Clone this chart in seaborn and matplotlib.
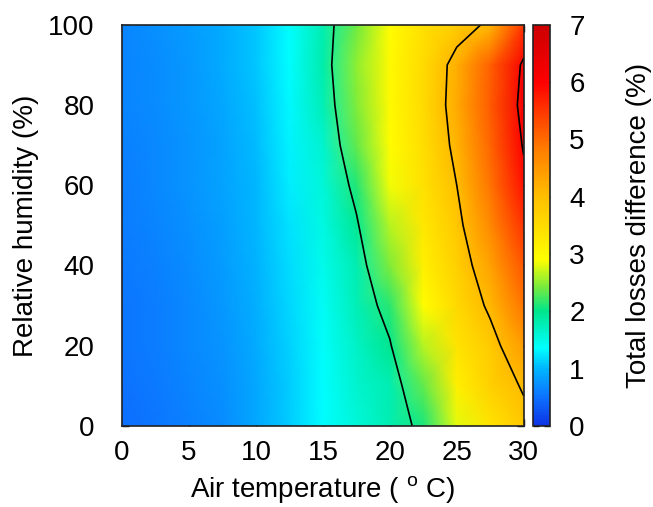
import numpy as np
import matplotlib
matplotlib.use("Agg")
import matplotlib.pyplot as plt
from matplotlib.colors import LinearSegmentedColormap
import seaborn as sns

# ---- data ----
temperature = [0, 2.5, 5, 7.5, 10, 12.5, 15, 17.5, 20, 22.5, 25, 27.5, 30]
humidity = [0, 10, 20, 30, 40, 50, 60, 70, 80, 90, 100]

rh_0   = [0.48, 0.54, 0.61, 0.70, 0.88, 1.10, 1.35, 1.58, 1.80, 2.10, 2.80, 3.35, 3.85]
rh_10  = [0.50, 0.56, 0.63, 0.73, 0.90, 1.12, 1.36, 1.62, 1.80, 2.35, 3.15, 3.70, 4.05]
rh_20  = [0.52, 0.58, 0.66, 0.76, 0.92, 1.14, 1.38, 1.68, 1.97, 2.65, 3.35, 3.80, 4.45]
rh_30  = [0.54, 0.60, 0.68, 0.78, 0.94, 1.17, 1.42, 1.75, 2.15, 2.95, 3.55, 4.10, 4.90]
rh_40  = [0.56, 0.62, 0.70, 0.81, 0.97, 1.20, 1.47, 1.80, 2.45, 3.15, 3.70, 4.35, 5.20]
rh_50  = [0.58, 0.64, 0.72, 0.83, 0.99, 1.23, 1.52, 1.95, 2.65, 3.30, 3.85, 4.65, 5.55]
rh_60  = [0.60, 0.66, 0.74, 0.85, 1.01, 1.26, 1.58, 2.12, 2.85, 3.40, 4.00, 4.90, 5.85]
rh_70  = [0.61, 0.68, 0.76, 0.87, 1.03, 1.29, 1.63, 2.35, 2.95, 3.45, 4.15, 5.05, 6.05]
rh_80  = [0.63, 0.70, 0.78, 0.89, 1.05, 1.32, 1.75, 2.45, 3.00, 3.50, 4.25, 5.15, 6.20]
rh_90  = [0.64, 0.71, 0.79, 0.91, 1.07, 1.36, 1.82, 2.50, 3.00, 3.50, 4.20, 5.10, 6.10]
rh_100 = [0.65, 0.72, 0.80, 0.92, 1.08, 1.35, 1.80, 2.40, 2.95, 3.40, 3.75, 4.10, 5.50]

contour_levels = [2, 4, 6]
cbar_ticks = [0, 1, 2, 3, 4, 5, 6, 7]
x_ticks = [0, 5, 10, 15, 20, 25, 30]
y_ticks = [0, 20, 40, 60, 80, 100]

Z = np.array([rh_0, rh_10, rh_20, rh_30, rh_40, rh_50, rh_60,
              rh_70, rh_80, rh_90, rh_100])
T, H = np.meshgrid(temperature, humidity)

# ---- style ----
sns.set_theme(style="ticks")
plt.rcParams['font.family'] = ['Liberation Sans', 'DejaVu Sans']
plt.rcParams['mathtext.fontset'] = 'custom'
plt.rcParams['mathtext.rm'] = 'Liberation Sans'
plt.rcParams['mathtext.it'] = 'Liberation Sans'
plt.rcParams['text.color'] = 'black'
plt.rcParams['axes.labelcolor'] = 'black'
plt.rcParams['xtick.color'] = 'black'
plt.rcParams['ytick.color'] = 'black'

stops = [
    (0.0, (0.05, 0.20, 0.90)),
    (0.5, (0.05, 0.45, 1.00)),
    (1.0, (0.00, 0.72, 1.00)),
    (1.35, (0.00, 1.00, 1.00)),
    (2.0, (0.00, 0.90, 0.55)),
    (2.4, (0.45, 0.92, 0.25)),
    (2.9, (1.00, 1.00, 0.00)),
    (3.5, (1.00, 0.86, 0.00)),
    (4.0, (1.00, 0.75, 0.00)),
    (4.8, (1.00, 0.50, 0.00)),
    (5.3, (1.00, 0.30, 0.00)),
    (6.0, (1.00, 0.00, 0.00)),
    (7.0, (0.80, 0.00, 0.00)),
]
cmap = LinearSegmentedColormap.from_list("losses", [(v / 7.0, c) for v, c in stops])

fig = plt.figure(figsize=(6.53, 5.07), dpi=100)
ax = fig.add_axes([0.187, 0.160, 0.615, 0.791])
cax = fig.add_axes([0.816, 0.160, 0.026, 0.791])

mesh = ax.pcolormesh(T, H, Z, cmap=cmap, vmin=0, vmax=7, shading='gouraud')
ax.contour(T, H, Z, levels=contour_levels, colors='black', linewidths=1.2)

ax.set_xlim(0, 30)
ax.set_ylim(0, 100)
ax.set_xticks(x_ticks)
ax.set_yticks(y_ticks)
ax.tick_params(direction='in', top=True, right=True, length=5, width=1,
               labelsize=20, color='black')
ax.tick_params(axis='x', pad=10)
ax.tick_params(axis='y', pad=20)
for s in ax.spines.values():
    s.set_color('#222222')
    s.set_linewidth(1.2)
ax.set_xlabel(r'Air temperature ( $^{\mathrm{o}}$ C)', fontsize=20, labelpad=6)
ax.set_ylabel('Relative humidity (%)', fontsize=20, labelpad=6)

cb = fig.colorbar(mesh, cax=cax, ticks=cbar_ticks)
cb.outline.set_linewidth(1.2)
cb.outline.set_edgecolor('#222222')
cax.tick_params(direction='in', left=True, right=True, length=4, width=1,
                labelsize=20, color='black', pad=14)
cb.set_label('Total losses difference (%)', fontsize=20, labelpad=30)

fig.savefig('out.png', dpi=100)
